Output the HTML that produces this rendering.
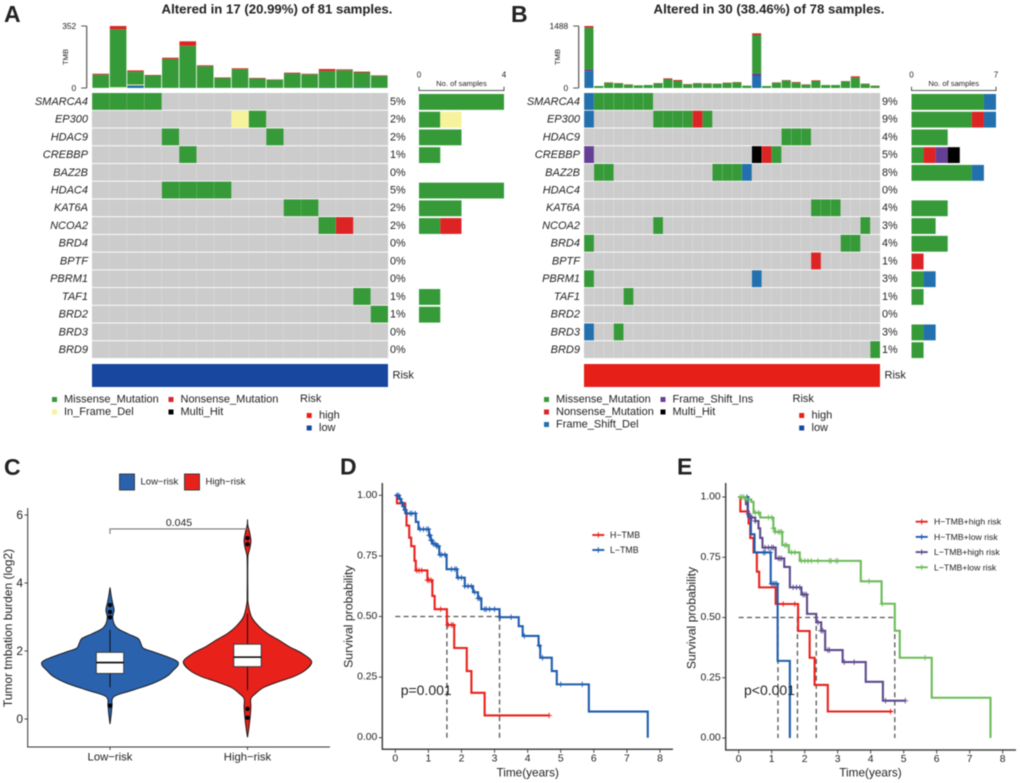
<!DOCTYPE html>
<html lang="en">
<head>
<meta charset="utf-8">
<title>Oncoplots, TMB violin and survival curves</title>
<style>
html,body{margin:0;padding:0;background:#fff;}
#figure{display:block;width:1020px;height:783px;font-family:"Liberation Sans",sans-serif;filter:blur(0.4px);}
text{font-family:"Liberation Sans",sans-serif;fill:#222;}
</style>
</head>
<body>
<svg id="figure" xmlns="http://www.w3.org/2000/svg" width="1020" height="783" viewBox="0 0 1020 783">
  <g id="panelA"></g>
  <g id="panelB"></g>
  <g id="panelC"></g>
  <g id="panelD"></g>
  <g id="panelE"></g>
</svg>
<script>
/* ---------- oncoplot data ---------- */
const genes = ['SMARCA4','EP300','HDAC9','CREBBP','BAZ2B','HDAC4','KAT6A','NCOA2','BRD4','BPTF','PBRM1','TAF1','BRD2','BRD3','BRD9'];
const pctA = [5,2,2,1,0,5,2,2,0,0,0,1,1,0,0];
const pctB = [9,9,4,5,8,0,4,3,4,1,3,1,0,3,1];
const alterationsA = [
  [[0,'M'],[1,'M'],[2,'M'],[3,'M']],
  [[8,'Y'],[9,'M']],
  [[4,'M'],[10,'M']],
  [[5,'M']],
  [],
  [[4,'M'],[5,'M'],[6,'M'],[7,'M']],
  [[11,'M'],[12,'M']],
  [[13,'M'],[14,'N']],
  [],[],[],
  [[15,'M']],
  [[16,'M']],
  [],[]
];
const alterationsB = [
  [[0,'D'],[1,'M'],[2,'M'],[3,'M'],[4,'M'],[5,'M'],[6,'M']],
  [[0,'D'],[7,'M'],[8,'M'],[9,'M'],[10,'M'],[11,'N'],[12,'M']],
  [[20,'M'],[21,'M'],[22,'M']],
  [[0,'I'],[17,'H'],[18,'N'],[19,'M']],
  [[1,'M'],[2,'M'],[13,'M'],[14,'M'],[15,'M'],[16,'D']],
  [],
  [[23,'M'],[24,'M'],[25,'M']],
  [[7,'M'],[28,'M']],
  [[0,'M'],[26,'M'],[27,'M']],
  [[23,'N']],
  [[0,'M'],[17,'D']],
  [[4,'M']],
  [],
  [[0,'D'],[3,'M']],
  [[29,'M']]
];
const tmbABlue   = [1,1,15,2,1,2,1,1,1,2,1,1,1,3,1,5,1];
const tmbAYellow = [0,4,5,0,0,0,0,0,0,0,0,0,0,0,0,0,0];
const tmbAGreen  = [75,328,73,69,164,238,123,56,106,52,46,81,77,94,100,83,68];
const tmbARed    = [5,19,7,3,7,25,5,3,5,3,2,5,3,11,5,5,3];
const tmbBBlue   = [400,0,0,0,0,0,0,0,0,0,0,8,0,0,0,0,0,288,0,0,0,0,0,0,0,0,0,0,0,0];
const tmbBPurple = [48,0,0,0,0,0,0,0,0,0,0,0,0,0,0,0,0,64,0,0,0,0,0,0,0,0,0,0,0,0];
const tmbBGreen  = [1000,48,128,112,80,64,72,112,216,168,88,104,104,96,120,136,56,920,48,128,184,128,80,168,72,72,160,248,96,48];
const tmbBRed    = [40,0,8,8,8,0,0,8,16,24,8,8,8,8,8,8,0,40,0,8,8,16,8,16,0,0,8,32,8,8];

/* ---------- violin data ---------- */
const violinCategories = ['Low−risk','High−risk'];
const violinTicks = [0,2,4,6];
const lowDensityLevels = [-0.15,0.17,0.39,0.66,0.85,1.05,1.25,1.44,1.6,1.74,1.98,2.08,2.23,2.37,2.5,2.65,2.8,3.0,3.2,3.4,3.6,3.87];
const lowDensity = [0,0.02,0.03,0.06,0.34,0.63,0.83,0.93,1,0.95,0.63,0.49,0.45,0.41,0.27,0.12,0.06,0.04,0.06,0.04,0.02,0];
const highDensityLevels = [-0.54,-0.27,0.07,0.36,0.6,0.75,0.93,1.1,1.25,1.44,1.69,1.93,2.13,2.32,2.52,2.72,3.0,3.4,3.7,4.68,4.87,5.07,5.26,5.5,5.7,5.87];
const highDensity = [0,0.02,0.04,0.05,0.05,0.12,0.24,0.46,0.68,0.85,0.94,0.8,0.61,0.46,0.29,0.17,0.06,0.01,0.005,0.005,0.015,0.04,0.05,0.03,0.005,0];
const lowBox = [0.93,1.34,1.66,1.96,2.62];
const highBox = [0.85,1.54,1.82,2.2,3.1];
const lowOutliers = [3.35,3.15,2.99,0.39];
const highOutliers = [5.32,5.14,0.3,0.04];

/* ---------- survival data ---------- */
const survTicksY = [0,0.25,0.5,0.75,1];
const survTicksX = [0,1,2,3,4,5,6,7,8];
const hTmbTimes = [0.05,0.3,0.34,0.42,0.48,0.58,0.62,0.97,1.12,1.19,1.56,1.78,2.16,2.3,2.7,4.65];
const hTmbSurv  = [0.967,0.93,0.875,0.825,0.79,0.73,0.69,0.65,0.585,0.53,0.465,0.37,0.275,0.185,0.092,0.092];
const hTmbCensor = [0.65,0.72,0.8,0.97,1.02,1.08,1.37,1.6,1.7,1.75,4.65];
const lTmbTimes = [0.12,0.17,0.22,0.27,0.32,0.62,0.7,1.02,1.07,1.12,1.25,1.33,1.55,1.87,2.1,2.35,2.5,2.6,3.15,3.73,3.85,4.33,4.38,4.73,4.88,5.85,7.63];
const lTmbSurv  = [0.985,0.97,0.955,0.94,0.925,0.89,0.86,0.835,0.815,0.8,0.79,0.755,0.695,0.66,0.625,0.6,0.575,0.53,0.497,0.46,0.42,0.38,0.33,0.275,0.22,0.108,0];
const lTmbCensor = [0.05,0.1,0.15,0.2,0.25,0.3,0.35,0.45,0.5,0.6,0.75,0.85,0.95,1.0,1.02,1.05,1.08,1.1,1.15,1.2,1.25,1.3,1.35,1.4,1.5,1.7,1.8,1.85,1.9,2.0,2.1,2.2,2.3,2.4,2.5,2.55,2.7,2.75,2.85,3.0,3.17,3.5,3.9,4.35,4.45,5.0,5.65];
const dMedians = [1.56,3.15];

const hhTimes = [0.05,0.3,0.35,0.45,0.55,0.62,1.12,1.8,2.15,2.3,2.7,4.65];
const hhSurv  = [0.94,0.89,0.83,0.77,0.69,0.625,0.556,0.444,0.333,0.22,0.11,0.11];
const hhCensor = [0.25,1.35,1.7,4.6];
const hlTimes = [0.28,0.37,0.48,0.97,1.18,1.55];
const hlSurv  = [0.92,0.845,0.77,0.64,0.32,0];
const hlCensor = [0.25,0.75,0.8,0.95,1.0,1.05,1.1,1.15];
const lhTimes = [0.22,0.27,0.32,0.5,0.6,0.65,0.72,1.12,1.38,1.55,1.9,2.07,2.35,2.5,2.62,3.15,3.85,4.37,5.05];
const lhSurv  = [0.97,0.93,0.915,0.9,0.87,0.83,0.79,0.745,0.71,0.625,0.595,0.515,0.48,0.445,0.365,0.315,0.233,0.155,0.155];
const lhCensor = [0.3,0.35,0.4,0.5,0.8,0.9,1.0,1.05,1.2,1.25,1.3,1.65,1.75,1.85,1.95,2.0,2.05,2.4,2.5,2.55,2.7,2.75,3.2,3.5,4.45,5.05];
const llTimes = [0.2,0.38,0.45,0.65,1.05,1.1,1.32,1.52,1.85,3.7,4.33,4.73,4.88,5.85,7.63];
const llSurv  = [0.99,0.98,0.935,0.915,0.87,0.855,0.8,0.77,0.735,0.65,0.557,0.445,0.333,0.167,0];
const llCensor = [0.05,0.1,0.15,0.25,0.5,0.6,0.9,1.0,1.05,1.1,1.2,1.25,1.3,1.4,1.45,1.6,1.7,1.9,2.0,2.1,2.2,2.4,2.75,2.8,2.95,3.0,3.95,4.35,5.65];
const eMedians = [1.19,1.78,2.35,4.73];

/* ---------- drawing primitives ---------- */
const NS = 'http://www.w3.org/2000/svg';
function make(parent, tag, name, attrs) {
  const el = document.createElementNS(NS, tag);
  
  
  for (const k in attrs) el.setAttribute(k, attrs[k]);
  parent.appendChild(el);
  return el;
}
function rect(p, name, x, y, w, h, fill, extra) {
  return make(p, 'rect', name, Object.assign({x: x, y: y, width: w, height: h, fill: fill}, extra || {}));
}
function line(p, name, x1, y1, x2, y2, stroke, sw, extra) {
  return make(p, 'line', name, Object.assign({x1: x1, y1: y1, x2: x2, y2: y2, stroke: stroke, 'stroke-width': sw}, extra || {}));
}
function path(p, name, d, fill, stroke, sw, extra) {
  return make(p, 'path', name, Object.assign({d: d, fill: fill, stroke: stroke, 'stroke-width': sw}, extra || {}));
}
function label(p, name, x, y, str, size, extra) {
  const el = make(p, 'text', name, Object.assign({x: x, y: y, 'font-size': size, 'dominant-baseline': 'central'}, extra || {}));
  el.textContent = str;
  return el;
}

/* ---------- oncoplot ---------- */
const COLORS = {M:'#369a38', N:'#dd2424', D:'#2270ad', I:'#653f95', H:'#000000', Y:'#f6f39c'};
const STACK_ORDER = ['M','N','D','I','H','Y'];
const ROW_TOP = 93, ROW_H = 17.73;

function drawOncoplot(g, cfg) {
  const colW = (cfg.x1 - cfg.x0) / cfg.samples;
  const rowY = i => ROW_TOP + i * ROW_H;
  const tmbY = v => 88 - v / cfg.tmbMax * 62;
  const countX = v => cfg.barX0 + v / cfg.countMax * (cfg.barX1 - cfg.barX0);

  label(g, 'panel-letter', cfg.letterX, 14, cfg.letter, 23, {'font-weight': 'bold', fill: '#000'});
  label(g, 'oncoplot-title', (cfg.x0 + cfg.x1) / 2 + 37, 9, cfg.title, 13.2, {'font-weight': 'bold', 'text-anchor': 'middle', fill: '#111'});

  /* TMB axis */
  const axX = cfg.x0 - 5.3;
  line(g, 'tmb-axis', axX, tmbY(cfg.tmbMax), axX, tmbY(0), '#555', 1.2);
  line(g, 'tmb-tick-max', axX - 5.5, tmbY(cfg.tmbMax), axX, tmbY(cfg.tmbMax), '#555', 1);
  line(g, 'tmb-tick-zero', axX - 5.5, tmbY(0), axX, tmbY(0), '#555', 1);
  label(g, 'tmb-tick-label-max', axX - 10.5, tmbY(cfg.tmbMax), String(cfg.tmbMax), 8.4, {'text-anchor': 'end', fill: '#333'});
  label(g, 'tmb-tick-label-zero', axX - 10.5, tmbY(0), '0', 8.4, {'text-anchor': 'end', fill: '#333'});
  label(g, 'tmb-axis-title', 0, 0, 'TMB', 7.6, {'text-anchor': 'middle', fill: '#333', transform: 'translate(' + (axX - 21) + ',57) rotate(-90)'});

  /* TMB stacked bars */
  for (let s = 0; s < cfg.samples; s++) {
    let base = 0;
    cfg.stacks.forEach(function (st) {
      const v = st.values[s];
      if (v <= 0) return;
      rect(g, 'tmb-bar-segment', cfg.x0 + s * colW + 0.4, tmbY(base + v), colW - 0.8, tmbY(base) - tmbY(base + v), COLORS[st.key]);
      base += v;
    });
  }

  /* matrix background */
  genes.forEach(function (gene, i) {
    label(g, 'gene-label', cfg.x0 - 4, rowY(i) + ROW_H / 2, gene, 11, {'text-anchor': 'end', 'font-style': 'italic', fill: '#333'});
    for (let s = 0; s < cfg.samples; s++) {
      rect(g, 'matrix-cell', cfg.x0 + s * colW, rowY(i), colW + 0.05, ROW_H - 0.9, '#cccccc', {stroke: 'none'});
    }
    for (let s = 1; s < cfg.samples; s++) {
      line(g, 'matrix-gridline', cfg.x0 + s * colW, rowY(i), cfg.x0 + s * colW, rowY(i) + ROW_H - 0.9, '#dcdcdc', 0.5);
    }
    cfg.alterations[i].forEach(function (a) {
      rect(g, 'alteration-' + gene, cfg.x0 + a[0] * colW + 0.2, rowY(i), colW - 0.2, ROW_H - 0.9, COLORS[a[1]]);
    });
    label(g, 'percent-label', cfg.x1 + 2, rowY(i) + ROW_H / 2, cfg.pct[i] + '%', 10.8, {fill: '#333'});

    /* side bars computed from the alterations */
    let acc = 0;
    STACK_ORDER.forEach(function (key) {
      const n = cfg.alterations[i].filter(a => a[1] === key).length;
      if (!n) return;
      rect(g, 'sample-count-bar-' + gene, countX(acc), rowY(i) + 1, countX(acc + n) - countX(acc), ROW_H - 1.9, COLORS[key]);
      acc += n;
    });
  });

  /* count axis */
  path(g, 'sample-count-axis', 'M' + cfg.barX0 + ' 86.7V90.5H' + cfg.barX1 + 'V86.7', 'none', '#222', 0.8);
  label(g, 'count-tick-label-zero', cfg.barX0, 75, '0', 8, {'text-anchor': 'middle'});
  label(g, 'count-tick-label-max', cfg.barX1, 75, String(cfg.countMax), 8, {'text-anchor': 'middle'});
  label(g, 'sample-count-axis-title', (cfg.barX0 + cfg.barX1) / 2, 83.3, 'No. of samples', 7.6, {'text-anchor': 'middle', fill: '#333'});

  /* risk annotation */
  rect(g, 'risk-annotation-bar', cfg.x0, 364, cfg.x1 - cfg.x0, 23, cfg.riskColor);
  label(g, 'risk-annotation-label', cfg.x1 + 4.5, 375.7, 'Risk', 11, {fill: '#333'});

  /* legends */
  cfg.legend.forEach(function (it) {
    rect(g, 'legend-swatch', it.x, it.y - 2.5, 5, 5, COLORS[it.key]);
    label(g, 'legend-entry', it.x + 12, it.y, it.text, 11, {fill: '#333'});
  });
  label(g, 'risk-legend-title', cfg.riskLegendX, 399, 'Risk', 11, {fill: '#333'});
  rect(g, 'risk-legend-swatch-high', cfg.riskLegendX + 6.7, 413, 5, 5, '#e71f19');
  label(g, 'risk-legend-high', cfg.riskLegendX + 19, 415.7, 'high', 11, {fill: '#333'});
  rect(g, 'risk-legend-swatch-low', cfg.riskLegendX + 6.7, 425.5, 5, 5, '#17479e');
  label(g, 'risk-legend-low', cfg.riskLegendX + 19, 428, 'low', 11, {fill: '#333'});
}

drawOncoplot(document.getElementById('panelA'), {
  letter: 'A', letterX: 4, title: 'Altered in 17 (20.99%) of 81 samples.',
  x0: 92, x1: 388, samples: 17, tmbMax: 352, countMax: 4, barX0: 419, barX1: 504,
  alterations: alterationsA, pct: pctA, riskColor: '#17479e', riskLegendX: 300,
  stacks: [{key: 'D', values: tmbABlue}, {key: 'Y', values: tmbAYellow}, {key: 'M', values: tmbAGreen}, {key: 'N', values: tmbARed}],
  legend: [
    {key: 'M', x: 52, y: 399.5, text: 'Missense_Mutation'},
    {key: 'Y', x: 52, y: 412, text: 'In_Frame_Del'},
    {key: 'N', x: 168.5, y: 399.5, text: 'Nonsense_Mutation'},
    {key: 'H', x: 168.5, y: 412, text: 'Multi_Hit'}
  ]
});
drawOncoplot(document.getElementById('panelB'), {
  letter: 'B', letterX: 511, title: 'Altered in 30 (38.46%) of 78 samples.',
  x0: 584, x1: 880, samples: 30, tmbMax: 1488, countMax: 7, barX0: 911.5, barX1: 996,
  alterations: alterationsB, pct: pctB, riskColor: '#e71f19', riskLegendX: 792.5,
  stacks: [{key: 'D', values: tmbBBlue}, {key: 'I', values: tmbBPurple}, {key: 'M', values: tmbBGreen}, {key: 'N', values: tmbBRed}],
  legend: [
    {key: 'M', x: 544, y: 399.5, text: 'Missense_Mutation'},
    {key: 'N', x: 544, y: 412, text: 'Nonsense_Mutation'},
    {key: 'D', x: 544, y: 424.5, text: 'Frame_Shift_Del'},
    {key: 'I', x: 660.5, y: 399.5, text: 'Frame_Shift_Ins'},
    {key: 'H', x: 660.5, y: 412, text: 'Multi_Hit'}
  ]
});

/* ---------- violin ---------- */
(function () {
  const g = document.getElementById('panelC');
  const yC = v => 719 - v * 34;
  const centers = [110, 247.5];
  const dScale = d => d * 68.3;

  label(g, 'panel-letter', 4, 467, 'C', 23, {'font-weight': 'bold', fill: '#000'});

  function smooth(pts) {
    let d = 'M' + pts[0][0].toFixed(2) + ' ' + pts[0][1].toFixed(2);
    for (let i = 0; i < pts.length - 1; i++) {
      const p0 = pts[Math.max(i - 1, 0)], p1 = pts[i], p2 = pts[i + 1], p3 = pts[Math.min(i + 2, pts.length - 1)];
      const c1x = p1[0] + (p2[0] - p0[0]) / 6, c1y = p1[1] + (p2[1] - p0[1]) / 6;
      const c2x = p2[0] - (p3[0] - p1[0]) / 6, c2y = p2[1] - (p3[1] - p1[1]) / 6;
      d += 'C' + c1x.toFixed(2) + ' ' + c1y.toFixed(2) + ' ' + c2x.toFixed(2) + ' ' + c2y.toFixed(2) + ' ' + p2[0].toFixed(2) + ' ' + p2[1].toFixed(2);
    }
    return d;
  }
  function violin(cx, levels, dens, fill, name) {
    const right = levels.map((v, i) => [cx + dScale(dens[i]), yC(v)]);
    const left = levels.map((v, i) => [cx - dScale(dens[i]), yC(v)]).reverse();
    const d = smooth(right) + smooth(left).replace(/^M[^C]*/, '') + 'Z';
    path(g, name, d, fill, '#111', 0.9);
  }
  function box(cx, b, name) {
    line(g, name + '-whisker', cx, yC(b[0]), cx, yC(b[4]), '#111', 1);
    rect(g, name, cx - 13.7, yC(b[3]), 27.4, yC(b[1]) - yC(b[3]), '#ffffff', {stroke: '#333', 'stroke-width': 0.9});
    line(g, name + '-median', cx - 13.7, yC(b[2]), cx + 13.7, yC(b[2]), '#000', 1.6);
  }
  violin(centers[0], lowDensityLevels, lowDensity, '#2a62ae', 'violin-low-risk');
  violin(centers[1], highDensityLevels, highDensity, '#e8211b', 'violin-high-risk');
  box(centers[0], lowBox, 'box-low-risk');
  box(centers[1], highBox, 'box-high-risk');
  lowOutliers.forEach(v => make(g, 'circle', 'outlier-low-risk', {cx: centers[0], cy: yC(v), r: 2.2, fill: '#000'}));
  highOutliers.forEach(v => make(g, 'circle', 'outlier-high-risk', {cx: centers[1], cy: yC(v), r: 2.2, fill: '#000'}));

  path(g, 'significance-bracket', 'M110 ' + (yC(5.59) + 5) + 'V' + yC(5.59) + 'H247.5', 'none', '#777', 1.1);
  label(g, 'p-value-label', 179, 523, '0.045', 10.5, {'text-anchor': 'middle'});

  line(g, 'y-axis', 27.7, 508, 27.7, 747, '#333', 1);
  line(g, 'x-axis', 27.2, 747, 330, 747, '#333', 1);
  violinTicks.forEach(function (v) {
    line(g, 'y-tick', 24.5, yC(v), 27.7, yC(v), '#333', 0.9);
    label(g, 'y-tick-label', 23, yC(v), String(v), 12, {'text-anchor': 'end', fill: '#444'});
  });
  violinCategories.forEach(function (c, i) {
    line(g, 'x-tick', centers[i], 747, centers[i], 750, '#333', 0.9);
    label(g, 'x-tick-label', centers[i], 757.5, c, 11.3, {'text-anchor': 'middle', fill: '#333'});
  });
  label(g, 'y-axis-title', 0, 0, 'Tumor tmbation burden (log2)', 12, {'text-anchor': 'middle', fill: '#333', transform: 'translate(8,628) rotate(-90)'});

  rect(g, 'legend-swatch-low-risk', 119.5, 474, 15, 16, '#2a62ae', {stroke: '#333', 'stroke-width': 0.9});
  label(g, 'legend-entry-low-risk', 140.5, 482, 'Low−risk', 9.5, {fill: '#333'});
  rect(g, 'legend-swatch-high-risk', 184.5, 474, 15, 16, '#e8211b', {stroke: '#333', 'stroke-width': 0.9});
  label(g, 'legend-entry-high-risk', 205.5, 482, 'High−risk', 9.5, {fill: '#333'});
})();

/* ---------- survival ---------- */
function drawSurvival(g, cfg) {
  const xS = t => cfg.x0 + t * (cfg.x8 - cfg.x0) / 8;
  const yS = s => cfg.y0 + s * (cfg.y1 - cfg.y0);

  label(g, 'panel-letter', cfg.letterX, 466.5, cfg.letter, 23, {'font-weight': 'bold', fill: '#000'});

  /* median guides */
  const maxMed = Math.max.apply(null, cfg.medians);
  line(g, 'median-guide-horizontal', xS(0), yS(0.5), xS(maxMed), yS(0.5), '#555', 1.3, {'stroke-dasharray': '5 3.3'});
  cfg.medians.forEach(m => line(g, 'median-guide-vertical', xS(m), yS(0.5), xS(m), yS(0), '#555', 1.3, {'stroke-dasharray': '5 3.3'}));

  cfg.series.forEach(function (s) {
    let d = 'M' + xS(0) + ' ' + yS(1);
    const survAt = function (t) {
      let v = 1;
      s.times.forEach(function (ti, i) { if (ti <= t) v = s.surv[i]; });
      return v;
    };
    s.times.forEach(function (t, i) {
      d += 'H' + xS(t).toFixed(2) + 'V' + yS(s.surv[i]).toFixed(2);
    });
    path(g, 'survival-curve-' + s.id, d, 'none', s.color, 2.1, {'stroke-linejoin': 'miter'});
    s.censor.forEach(function (t) {
      const px = xS(t), py = yS(survAt(t));
      path(g, 'censor-mark-' + s.id, 'M' + (px - 2.8) + ' ' + py + 'H' + (px + 2.8) + 'M' + px + ' ' + (py - 2.8) + 'V' + (py + 2.8), 'none', s.color, 0.9);
    });
  });

  label(g, 'p-value-label', cfg.pX, 690, cfg.pText, 14, {fill: '#222'});

  /* axes */
  line(g, 'y-axis', cfg.axisX, 483, cfg.axisX, cfg.axisY, '#444', 1.5);
  line(g, 'x-axis', cfg.axisX - 0.7, cfg.axisY, cfg.axisEnd, cfg.axisY, '#444', 1.5);
  survTicksY.forEach(function (v) {
    line(g, 'y-tick', cfg.axisX - 3.5, yS(v), cfg.axisX, yS(v), '#333', 0.9);
    label(g, 'y-tick-label', cfg.axisX - 5, yS(v), v.toFixed(2), 10.4, {'text-anchor': 'end', fill: '#333'});
  });
  survTicksX.forEach(function (v) {
    line(g, 'x-tick', xS(v), cfg.axisY, xS(v), cfg.axisY + 3.5, '#333', 0.9);
    label(g, 'x-tick-label', xS(v), cfg.axisY + 9.5, String(v), 10.4, {'text-anchor': 'middle', fill: '#333'});
  });
  label(g, 'x-axis-title', cfg.titleX, 772.5, 'Time(years)', 11.8, {'text-anchor': 'middle', fill: '#222'});
  label(g, 'y-axis-title', 0, 0, 'Survival probability', 12.2, {'text-anchor': 'middle', fill: '#222', transform: 'translate(' + cfg.ytitleX + ',' + cfg.ytitleY + ') rotate(-90)'});

  cfg.series.forEach(function (s, i) {
    const ly = cfg.legendY + i * cfg.legendStep;
    line(g, 'legend-line-' + s.id, cfg.legendX, ly, cfg.legendX + 12, ly, s.color, 1.9);
    path(g, 'legend-marker-' + s.id, 'M' + (cfg.legendX + 6) + ' ' + (ly - 2.8) + 'V' + (ly + 2.8), 'none', s.color, 1);
    label(g, 'legend-entry-' + s.id, cfg.legendX + cfg.legendGap, ly, s.name, cfg.legendFont, {fill: '#333'});
  });
}

drawSurvival(document.getElementById('panelD'), {
  letter: 'D', letterX: 340, x0: 395.3, x8: 660, y0: 737.7, y1: 495.3,
  axisX: 382.3, axisY: 749.3, axisEnd: 673, titleX: 527.7, ytitleX: 348.3, ytitleY: 616.7,
  pX: 400.7, pText: 'p=0.001', medians: dMedians,
  legendX: 592.3, legendY: 535, legendStep: 15, legendGap: 17.7, legendFont: 8.8,
  series: [
    {id: 'h-tmb', name: 'H−TMB', color: '#e8211b', times: hTmbTimes, surv: hTmbSurv, censor: hTmbCensor},
    {id: 'l-tmb', name: 'L−TMB', color: '#1f5cae', times: lTmbTimes, surv: lTmbSurv, censor: lTmbCensor}
  ]
});
drawSurvival(document.getElementById('panelE'), {
  letter: 'E', letterX: 677, x0: 738.7, x8: 1002.7, y0: 738, y1: 497,
  axisX: 725.7, axisY: 750, axisEnd: 1016, titleX: 870.5, ytitleX: 691.5, ytitleY: 618,
  pX: 744, pText: 'p<0.001', medians: eMedians,
  legendX: 915.7, legendY: 521.7, legendStep: 15.2, legendGap: 18.3, legendFont: 8.7,
  series: [
    {id: 'h-tmb-high-risk', name: 'H−TMB+high risk', color: '#e8211b', times: hhTimes, surv: hhSurv, censor: hhCensor},
    {id: 'h-tmb-low-risk', name: 'H−TMB+low risk', color: '#1f5cae', times: hlTimes, surv: hlSurv, censor: hlCensor},
    {id: 'l-tmb-high-risk', name: 'L−TMB+high risk', color: '#5d4a8c', times: lhTimes, surv: lhSurv, censor: lhCensor},
    {id: 'l-tmb-low-risk', name: 'L−TMB+low risk', color: '#6cbb5a', times: llTimes, surv: llSurv, censor: llCensor}
  ]
});
</script>
</body>
</html>
